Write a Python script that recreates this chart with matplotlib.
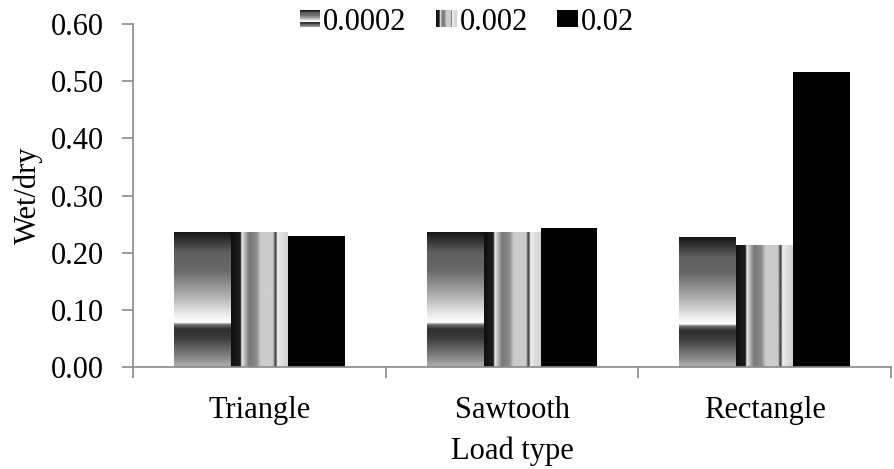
import numpy as np
import matplotlib
matplotlib.use("Agg")
import matplotlib.pyplot as plt
from matplotlib.patches import Rectangle
from matplotlib.legend_handler import HandlerBase

plt.rcParams['font.family'] = ['Liberation Serif', 'DejaVu Serif']

categories = ["Triangle", "Sawtooth", "Rectangle"]
series_names = ["0.0002", "0.002", "0.02"]
vals_0002 = [0.236, 0.236, 0.227]
vals_002 = [0.236, 0.236, 0.213]
vals_02 = [0.229, 0.244, 0.516]
y_ticks = [0.0, 0.1, 0.2, 0.3, 0.4, 0.5, 0.6]

# gradient profiles (style): position fraction -> gray level (0..1)
prof1_t = [0.0, 0.15, 0.28, 0.46, 0.61, 0.67, 0.685, 0.72, 0.79, 0.92, 1.0]
prof1_g = [0.08, 0.37, 0.41, 0.67, 0.92, 1.0, 0.45, 0.18, 0.24, 0.51, 0.69]
prof2_t = [0.0, 0.17, 0.175, 0.19, 0.25, 0.32, 0.45, 0.52, 0.74, 0.765, 0.79, 0.815, 0.88, 1.0]
prof2_g = [0.06, 0.12, 0.55, 0.92, 0.70, 0.47, 0.55, 0.80, 0.80, 0.40, 0.24, 0.94, 0.88, 0.82]

def profile(ts, gs, n=400):
    x = np.linspace(0, 1, n)
    return np.interp(x, ts, gs)

g1 = profile(prof1_t, prof1_g)   # top -> bottom
g2 = profile(prof2_t, prof2_g)   # left -> right

FS = 22

fig = plt.figure(figsize=(8.94, 4.69), dpi=100)
ax = fig.add_axes([0.1488, 0.2175, 0.848, 0.7313])

x = np.arange(len(categories))
w = 0.225
b1 = ax.bar(x - w, vals_0002, w, color='none', edgecolor='none')
b2 = ax.bar(x, vals_002, w, color='none', edgecolor='none')
b3 = ax.bar(x + w, vals_02, w, color='black', edgecolor='none')

img1 = g1[:, None]
img2 = g2[None, :]
for rect in b1:
    x0, y0, ww, hh = rect.get_x(), rect.get_y(), rect.get_width(), rect.get_height()
    im = ax.imshow(img1, cmap='gray', vmin=0, vmax=1, aspect='auto',
                   extent=[x0, x0 + ww, y0, y0 + hh], origin='upper',
                   interpolation='bilinear', zorder=2)
    im.set_clip_path(rect)
for rect in b2:
    x0, y0, ww, hh = rect.get_x(), rect.get_y(), rect.get_width(), rect.get_height()
    im = ax.imshow(img2, cmap='gray', vmin=0, vmax=1, aspect='auto',
                   extent=[x0, x0 + ww, y0, y0 + hh], origin='upper',
                   interpolation='bilinear', zorder=2)
    im.set_clip_path(rect)

ax.set_xlim(-0.5, len(categories) - 0.5)
ax.set_ylim(0, 0.6)
ax.set_yticks(y_ticks)
ax.set_yticklabels([f"{v:.2f}" for v in y_ticks])
ax.set_xticks(x)
ax.set_xticklabels(categories)
ax.set_xticks(np.arange(len(categories) + 1) - 0.5, minor=True)
ax.tick_params(axis='x', which='major', length=0, labelsize=FS, pad=21)
ax.tick_params(axis='x', which='minor', length=8, color='#898989', width=1.2)
ax.tick_params(axis='y', length=8, color='#898989', width=1.2, labelsize=FS, pad=13)
for s in ['top', 'right']:
    ax.spines[s].set_visible(False)
for s in ['left', 'bottom']:
    ax.spines[s].set_color('#898989')
    ax.spines[s].set_linewidth(1.2)
ax.set_xlabel("Load type", fontsize=FS, labelpad=8)
ax.set_ylabel("Wet/dry", fontsize=FS, labelpad=6)


class GradHandler(HandlerBase):
    def __init__(self, gray, vertical):
        super().__init__()
        self.gray = gray
        self.vertical = vertical

    def legend_artist(self, legend, orig_handle, fontsize, handlebox):
        x0, y0 = handlebox.xdescent, handlebox.ydescent
        W, H = handlebox.width, handlebox.height
        n = 30
        vals = np.interp(np.linspace(0, 1, n), np.linspace(0, 1, len(self.gray)), self.gray)
        arts = []
        for i, v in enumerate(vals):
            c = (v, v, v)
            if self.vertical:
                r = Rectangle((-x0 + W * i / n, -y0), W / n * 1.05, H, facecolor=c,
                              edgecolor='none', transform=handlebox.get_transform())
            else:
                r = Rectangle((-x0, -y0 + H - H * (i + 1) / n), W, H / n * 1.05, facecolor=c,
                              edgecolor='none', transform=handlebox.get_transform())
            handlebox.add_artist(r)
            arts.append(r)
        return arts[0]


h1 = Rectangle((0, 0), 1, 1)
h2 = Rectangle((0, 0), 1, 1)
h3 = Rectangle((0, 0), 1, 1, facecolor='black')
fig.legend([h1, h2, h3], series_names, loc='center', bbox_to_anchor=(0.522, 0.953),
           ncol=3, frameon=False, fontsize=FS, handlelength=0.68, handleheight=0.5,
           handletextpad=0.1, columnspacing=0.95, borderpad=0,
           handler_map={h1: GradHandler(g1, False), h2: GradHandler(g2, True)})

fig.savefig("out.png", dpi=100)
